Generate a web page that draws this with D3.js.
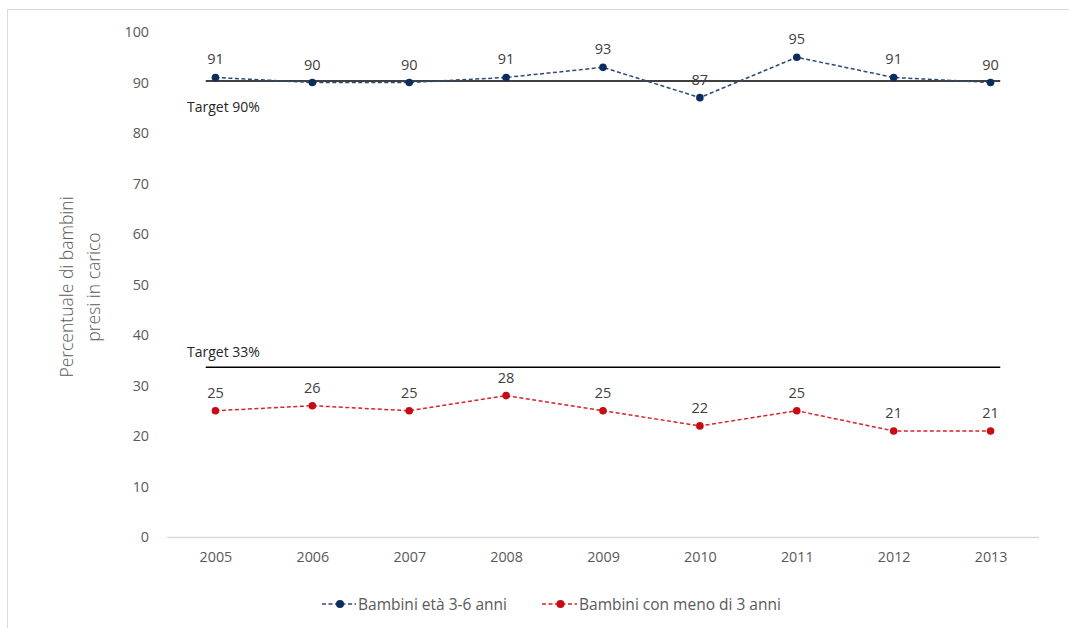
<!DOCTYPE html>
<html><head><meta charset="utf-8">
<script src="https://cdn.jsdelivr.net/npm/d3@7"></script>
<style>
html,body{margin:0;padding:0;background:#fff;}
svg{display:block;font-family:"Open Sans","Noto Sans",sans-serif;}
</style></head>
<body>
<svg id="c" width="1069" height="628"></svg>
<script>
const years = ["2005","2006","2007","2008","2009","2010","2011","2012","2013"];
const older = [91,90,90,91,93,87,95,91,90];
const younger = [25,26,25,28,25,22,25,21,21];
const targets = [90.3, 33.6];
const targetLabels = ["Target 90%","Target 33%"];
const yTicks = [0,10,20,30,40,50,60,70,80,90,100];
const seriesNames = ["Bambini età 3-6 anni","Bambini con meno di 3 anni"];

const svg = d3.select("#c");
// frame
svg.append("path").attr("d","M7.5,628 L7.5,9.5 L1069,9.5").attr("fill","none").attr("stroke","#d9d9d9").attr("stroke-width",1);

const x = d3.scalePoint().domain(years).range([167,1039]).padding(0.5);
const y = d3.scaleLinear().domain([0,100]).range([537,32]);

// y axis
const ya = svg.append("g").attr("transform","translate(149,0)")
  .call(d3.axisLeft(y).tickValues(yTicks).tickSize(0).tickPadding(0));
ya.select(".domain").remove();
ya.selectAll("text").attr("font-size",14.3).attr("fill","#595959").attr("font-family","Open Sans");

// baseline
svg.append("line").attr("x1",167).attr("x2",1039).attr("y1",y(0)+0.5).attr("y2",y(0)+0.5)
  .attr("stroke","#d9d9d9").attr("stroke-width",1.5);

// x axis
const xa = svg.append("g").attr("transform",`translate(0,${y(0)})`)
  .call(d3.axisBottom(x).tickSize(0).tickPadding(15));
xa.select(".domain").remove();
xa.selectAll("text").attr("font-size",14.3).attr("fill","#595959").attr("font-family","Open Sans");

// y title
const yt = svg.append("text").attr("transform","translate(81,287) rotate(-90)")
  .attr("text-anchor","middle").attr("font-size",17.5).attr("fill","#595959").attr("font-weight",300);
yt.append("tspan").attr("x",0).attr("dy","-0.45em").text("Percentuale di bambini");
yt.append("tspan").attr("x",0).attr("dy","1.55em").text("presi in carico");

// target lines
const step = x.step();
targets.forEach((t,i)=>{
  svg.append("line").attr("x1",x(years[0])-step*0.1).attr("x2",x(years[years.length-1])+step*0.1)
    .attr("y1",y(t)).attr("y2",y(t)).attr("stroke","#000").attr("stroke-width",1.5);
});
svg.append("text").attr("x",187).attr("y",y(targets[0])+31).attr("font-size",14).attr("fill","#262626").text(targetLabels[0]);
svg.append("text").attr("x",187).attr("y",y(targets[1])-10).attr("font-size",14).attr("fill","#262626").text(targetLabels[1]);

const series = [
  {vals: older, line:"#2e4a72", mark:"#0b2d5e"},
  {vals: younger, line:"#d8232a", mark:"#c80a12"}
];
const lineGen = d3.line().x((d,i)=>x(years[i])).y(d=>y(d));
series.forEach(s=>{
  svg.append("path").datum(s.vals).attr("d",lineGen).attr("fill","none")
    .attr("stroke",s.line).attr("stroke-width",1.5).attr("stroke-dasharray","4,2.5");
  svg.selectAll(null).data(s.vals).enter().append("circle")
    .attr("cx",(d,i)=>x(years[i])).attr("cy",d=>y(d)).attr("r",3.8).attr("fill",s.mark);
  svg.selectAll(null).data(s.vals).enter().append("text")
    .attr("x",(d,i)=>x(years[i])).attr("y",d=>y(d)-13).attr("text-anchor","middle")
    .attr("font-size",14.5).attr("fill","#404040").text(d=>d);
});

// legend
const leg = [{x:322, tx:358},{x:542, tx:579}];
series.forEach((s,i)=>{
  const g = svg.append("g");
  g.append("line").attr("x1",leg[i].x).attr("x2",leg[i].tx-2).attr("y1",604).attr("y2",604)
    .attr("stroke",s.line).attr("stroke-width",1.5).attr("stroke-dasharray","4,2.5");
  g.append("circle").attr("cx",(leg[i].x+leg[i].tx)/2).attr("cy",604).attr("r",4).attr("fill",s.mark);
  g.append("text").attr("x",leg[i].tx).attr("y",609.5).attr("font-size",15.5).attr("fill","#595959").text(seriesNames[i]);
});
</script>
</body></html>
